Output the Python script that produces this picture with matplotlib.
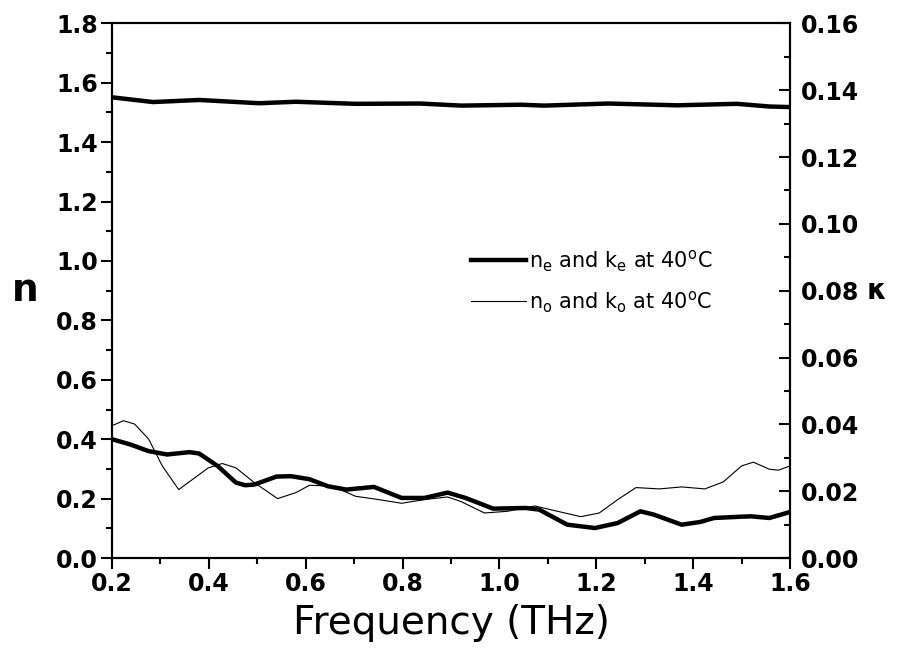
import matplotlib
matplotlib.use("Agg")
import matplotlib.pyplot as plt
from matplotlib.ticker import MultipleLocator

plt.rcParams['font.family'] = ['DejaVu Sans']
plt.rcParams['mathtext.fontset'] = 'custom'
plt.rcParams['mathtext.rm'] = 'DejaVu Sans'

# refractive index n_e (left axis)
f_ne = [0.2, 0.285, 0.38, 0.504, 0.58, 0.703, 0.836, 0.921, 1.045, 1.092,
        1.225, 1.367, 1.49, 1.557, 1.6]
n_e = [1.551, 1.535, 1.542, 1.531, 1.536, 1.529, 1.530, 1.523, 1.526, 1.523,
       1.530, 1.524, 1.529, 1.520, 1.518]

# extinction coefficient k_e (right axis)
f_ke = [0.2, 0.238, 0.276, 0.314, 0.36, 0.38, 0.418, 0.456, 0.475, 0.494,
        0.54, 0.57, 0.608, 0.646, 0.684, 0.741, 0.798, 0.845, 0.893, 0.93,
        0.987, 1.054, 1.082, 1.14, 1.197, 1.244, 1.291, 1.319, 1.376, 1.414,
        1.443, 1.5, 1.519, 1.557, 1.6]
k_e = [0.0356, 0.0340, 0.0320, 0.0310, 0.0317, 0.0313, 0.0276, 0.0226, 0.0218, 0.0220,
       0.0244, 0.0245, 0.0236, 0.0215, 0.0205, 0.0213, 0.0180, 0.0180, 0.0196, 0.0180,
       0.0148, 0.0150, 0.0145, 0.0100, 0.0090, 0.0105, 0.0140, 0.0130, 0.0100, 0.0108,
       0.0120, 0.0124, 0.0125, 0.0120, 0.0138]

# extinction coefficient k_o (right axis)
f_ko = [0.2, 0.224, 0.247, 0.276, 0.304, 0.338, 0.371, 0.399, 0.428, 0.456,
        0.494, 0.542, 0.58, 0.608, 0.656, 0.703, 0.751, 0.798, 0.845, 0.893,
        0.921, 0.969, 1.016, 1.073, 1.12, 1.168, 1.206, 1.244, 1.282, 1.33,
        1.376, 1.424, 1.462, 1.5, 1.524, 1.557, 1.576, 1.6]
k_o = [0.0396, 0.0411, 0.0401, 0.0356, 0.0276, 0.0205, 0.0240, 0.0270, 0.0283, 0.0270,
       0.0226, 0.0178, 0.0196, 0.0218, 0.0215, 0.0185, 0.0175, 0.0164, 0.0175, 0.0183,
       0.0169, 0.0135, 0.0140, 0.0156, 0.0140, 0.0124, 0.0135, 0.0175, 0.0211, 0.0207,
       0.0213, 0.0207, 0.0228, 0.0276, 0.0287, 0.0266, 0.0263, 0.0276]

fig = plt.figure(figsize=(9.02, 6.66), dpi=100)
ax = fig.add_axes([0.124, 0.162, 0.752, 0.803])
ax2 = ax.twinx()

l1, = ax.plot(f_ne, n_e, color='black', lw=3.2, solid_joinstyle='round')
ax2.plot(f_ke, k_e, color='black', lw=3.2, solid_joinstyle='round')
l2, = ax2.plot(f_ko, k_o, color='black', lw=0.8)

ax.set_xlim(0.2, 1.6)
ax.set_ylim(0, 1.8)
ax2.set_ylim(0, 0.16)

ax.xaxis.set_major_locator(MultipleLocator(0.2))
ax.xaxis.set_minor_locator(MultipleLocator(0.1))
ax.yaxis.set_major_locator(MultipleLocator(0.2))
ax.yaxis.set_minor_locator(MultipleLocator(0.1))
ax2.yaxis.set_major_locator(MultipleLocator(0.02))
ax2.yaxis.set_minor_locator(MultipleLocator(0.01))

ax.xaxis.set_major_formatter(plt.FormatStrFormatter('%.1f'))
ax.yaxis.set_major_formatter(plt.FormatStrFormatter('%.1f'))
ax2.yaxis.set_major_formatter(plt.FormatStrFormatter('%.2f'))

for a in (ax, ax2):
    for s in a.spines.values():
        s.set_linewidth(1.5)

ax.tick_params(axis='both', which='major', direction='out', length=8, width=1.5,
               labelsize=17, pad=2, top=False, right=False)
ax.tick_params(axis='both', which='minor', direction='out', length=4, width=1.5,
               top=False, right=False)
ax2.tick_params(axis='y', which='major', direction='in', length=8, width=1.5,
                labelsize=17, pad=8)
ax2.tick_params(axis='y', which='minor', direction='in', length=4, width=1.5)

for lab in ax.get_xticklabels() + ax.get_yticklabels() + ax2.get_yticklabels():
    lab.set_fontweight('bold')

ax.set_xlabel('Frequency (THz)', fontsize=28, labelpad=6)
ax.set_ylabel('n', fontsize=27, fontweight='bold', rotation=0, labelpad=22, va='center')
ax2.set_ylabel('κ', fontsize=20, fontweight='bold', rotation=0, labelpad=12, va='center')

ax2.legend([l1, l2],
           [r'n$_\mathregular{e}$ and k$_\mathregular{e}$ at 40$^\mathregular{o}$C',
            r'n$_\mathregular{o}$ and k$_\mathregular{o}$ at 40$^\mathregular{o}$C'],
           loc='upper left', bbox_to_anchor=(0.53, 0.58), frameon=False,
           fontsize=15, handlelength=2.6, handletextpad=0.15, labelspacing=0.75,
           borderpad=0, borderaxespad=0)

fig.savefig('out.png', dpi=100)
